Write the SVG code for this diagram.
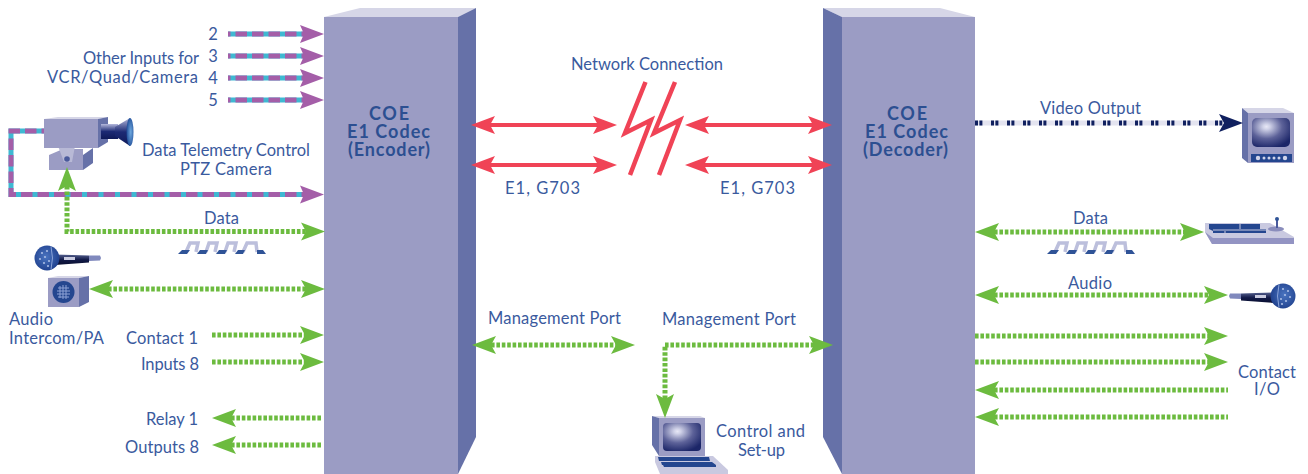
<svg xmlns="http://www.w3.org/2000/svg" xmlns:xlink="http://www.w3.org/1999/xlink" width="1308" height="474" viewBox="0 0 1308 474">
<style>
text{font-family:"Lato","Open Sans","Liberation Sans",sans-serif;font-weight:400;font-size:16.5px;fill:#3a5a9e}
.b{font-family:"Lato","Liberation Sans",sans-serif;font-weight:700;font-size:18px;fill:#2c4f91}
.m{text-anchor:middle}
path.l{fill:none}
.g{stroke:#6cbb3f;stroke-width:5;stroke-dasharray:3.6 1.8;marker-end:url(#hg)}
.g2{marker-start:url(#hgs)}
.gs{marker-start:url(#hgs);marker-end:none}
.r{stroke:#f04356;stroke-width:4;marker-start:url(#hrs);marker-end:url(#hr)}
.c{stroke:#3fb8d2;stroke-width:5}
.p{stroke:#a45ea8;stroke-width:5;stroke-dasharray:11.5 5;stroke-dashoffset:9;marker-end:url(#hp)}
.v{stroke:#e4e4f0;stroke-width:5}
.n{stroke:#10205f;stroke-width:5;stroke-dasharray:3 1.4 3 8.6;marker-end:url(#hn)}
.front{fill:#9b9cc4}.side{fill:#6671a8}.top{fill:#d6d6e7}
</style>
<defs>
<marker id="hg" markerUnits="userSpaceOnUse" markerWidth="24" markerHeight="20" refX="0" refY="0" orient="auto" overflow="visible"><path d="M-5-9L19 0L-5 9L0 0z" fill="#6cbb3f"/></marker>
<marker id="hgs" markerUnits="userSpaceOnUse" markerWidth="24" markerHeight="20" refX="0" refY="0" orient="auto-start-reverse" overflow="visible"><path d="M-5-9L19 0L-5 9L0 0z" fill="#6cbb3f"/></marker>
<marker id="hr" markerUnits="userSpaceOnUse" markerWidth="24" markerHeight="20" refX="0" refY="0" orient="auto" overflow="visible"><path d="M-5-9L19 0L-5 9L0 0z" fill="#f04356"/></marker>
<marker id="hrs" markerUnits="userSpaceOnUse" markerWidth="24" markerHeight="20" refX="0" refY="0" orient="auto-start-reverse" overflow="visible"><path d="M-5-9L19 0L-5 9L0 0z" fill="#f04356"/></marker>
<marker id="hp" markerUnits="userSpaceOnUse" markerWidth="24" markerHeight="20" refX="0" refY="0" orient="auto" overflow="visible"><path d="M-5-9L19 0L-5 9L-1 0z" fill="#a45ea8"/></marker>
<marker id="hn" markerUnits="userSpaceOnUse" markerWidth="24" markerHeight="20" refX="0" refY="0" orient="auto" overflow="visible"><path d="M-5-9L19 0L-5 9L0 0z" fill="#10205f"/></marker>
<radialGradient id="scr" cx="0.38" cy="0.3" r="0.75"><stop offset="0" stop-color="#e8e8f6"/><stop offset="0.12" stop-color="#d0d2e8"/><stop offset="0.55" stop-color="#5d6299"/><stop offset="1" stop-color="#1c2668"/></radialGradient>
<linearGradient id="cyl" x1="0" y1="0" x2="0" y2="1"><stop offset="0" stop-color="#b4b8dc"/><stop offset="0.5" stop-color="#1c2a74"/><stop offset="1" stop-color="#0f1a58"/></linearGradient>
<radialGradient id="lens" cx="0.6" cy="0.5" r="0.6"><stop offset="0" stop-color="#6fa9df"/><stop offset="1" stop-color="#1d4a96"/></radialGradient>
<linearGradient id="hand" x1="0" y1="0" x2="0" y2="1"><stop offset="0" stop-color="#55608f"/><stop offset="0.5" stop-color="#121a48"/><stop offset="1" stop-color="#0a0f30"/></linearGradient>
<radialGradient id="mh" cx="0.45" cy="0.45" r="0.6"><stop offset="0" stop-color="#4a74c0"/><stop offset="1" stop-color="#1e3f8c"/></radialGradient>
<g id="mic">
<path d="M8-3.500L42-2.500L42 4.500L8 7z" fill="url(#hand)"/>
<path d="M42-2.500L53-2.500L54 0L53 2.500L42 3z" fill="#8089bd"/>
<rect x="17" y="-1" width="11" height="3" fill="#c9cbe0"/>
<circle r="12.500" fill="url(#mh)"/>
<path d="M4-11.500Q7 0 4 11.500" fill="none" stroke="#8aa3d8" stroke-width="1"/>
<g fill="#a9bce4"><circle cx="-5" cy="-5" r="1.100"/><circle cx="0" cy="-7" r="1.100"/><circle cx="-2" cy="-1" r="1.100"/><circle cx="-7" cy="1" r="1.100"/><circle cx="-3" cy="5" r="1.100"/><circle cx="2" cy="3" r="1.100"/><circle cx="1" cy="8" r="1.100"/></g>
</g>
<g id="wave">
<path d="M186 252L190 243H198L196 252M206 252L209 243H217L215 252M225 252L228 243H236L234 252M243 252L247 243H256L257 252" fill="none" stroke="#bcbfdc" stroke-width="3.500"/>
<path d="M178 254L182 250H190L187 254zM197 254L200 250H208L206 254zM216 254L219 250H227L225 254zM235 254L238 250H245L243 254zM257 254L257 250H263L266 254z" fill="#2f5397"/>
</g>
</defs>

<g id="encoder">
<path class="top" d="M324 17L360 8H476L458 17z"/>
<path class="front" d="M324 17H458V474H324z"/>
<path class="side" d="M458 17L476 8V437L458 474z"/>
<text class="b" x="369" y="120" textLength="40">COE</text><text class="b" x="347" y="138" textLength="83">E1 Codec</text><text class="b" x="348" y="156" textLength="82">(Encoder)</text>
</g>
<g id="decoder">
<path class="top" d="M823 8H940L975 17H842z"/>
<path class="front" d="M842 17H975V474H842z"/>
<path class="side" d="M823 8L842 17V474L823 437z"/>
<text class="b" x="887" y="120" textLength="40">COE</text><text class="b" x="865" y="138" textLength="83">E1 Codec</text><text class="b" x="863" y="156" textLength="85">(Decoder)</text>
</g>

<g id="camera">
<path class="front" d="M49 155L63 149H83V170H49z"/>
<path class="side" d="M83 155L93 148V163L83 170z"/>
<path d="M58 146H75L72 162H64z" fill="#b8b9d6"/><circle cx="67" cy="159" r="2.800" fill="#4a5a9c"/>
<path class="top" d="M44 119L58 117H108L98 119z"/>
<path class="front" d="M44 119H98V148H44z"/>
<path class="side" d="M98 119L108 117V142L98 148z"/>
<rect x="101" y="124" width="17" height="15" fill="url(#cyl)"/>
<path d="M115 127L130 118V146L115 136z" fill="url(#cyl)"/>
<ellipse cx="130" cy="132" rx="3.500" ry="14" fill="url(#lens)"/>
</g>
<g id="mic-left"><use xlink:href="#mic" href="#mic" transform="translate(47 258)"/></g>
<g id="speaker">
<path class="top" d="M48 278L58 276H89L79 278z"/>
<path class="front" d="M48 278H79V307H48z"/>
<path class="side" d="M79 278L89 276V302L79 307z"/>
<circle cx="63.500" cy="292" r="11" fill="#24468f"/>
<path d="M58 288H69M57 291H70M57 294H70M58 297H69M60 286V298M63 285V299M66 285V299" stroke="#8ea2d6" stroke-width="1" fill="none"/>
</g>
<g id="wave-left"><use xlink:href="#wave" href="#wave"/></g>
<g id="wave-right"><use xlink:href="#wave" href="#wave" transform="translate(869 0)"/></g>
<g id="monitor">
<path class="top" d="M1242 108H1283L1294 113H1248z"/>
<path class="front" d="M1248 113H1294V163H1248z"/>
<path class="side" d="M1242 108L1248 113V163L1242 158z"/>
<rect x="1252" y="118" width="38" height="29" rx="5" fill="url(#scr)"/>
<rect x="1251" y="154" width="41" height="8" fill="#24468f"/>
<g fill="#d0d4ea"><circle cx="1258" cy="158" r="2.200"/><circle cx="1264" cy="158" r="1.500"/><circle cx="1269" cy="158" r="1.500"/><circle cx="1274" cy="158" r="1.500"/><circle cx="1279" cy="158" r="1.500"/><circle cx="1285" cy="158" r="2.200"/></g>
</g>
<g id="keyboard">
<path d="M1205 223H1270L1294 237V244H1212L1205 232z" fill="#c9c9e0"/>
<path d="M1205 232L1212 244H1294V238H1213z" fill="#9394c3"/>
<path d="M1209 224H1260V229H1266V233H1213V231L1209 229z" fill="#24468f"/>
<path d="M1213 230H1266M1225 231V233M1240 224V229" stroke="#c9c9e0" stroke-width="1"/>
<ellipse cx="1276" cy="229" rx="8" ry="2.500" fill="#8a8dbc"/>
<path d="M1277 219V228" stroke="#4a5a9c" stroke-width="2"/><circle cx="1277" cy="219" r="2" fill="#2f5397"/>
</g>
<g id="mic-right"><use xlink:href="#mic" href="#mic" transform="translate(1283 296) scale(-1 1)"/></g>
<g id="computer">
<path class="top" d="M652 416L700 416L705 418H659z"/>
<path class="front" d="M659 418H705V456H659z"/>
<path class="side" d="M652 416L659 418V456L652 445z"/>
<rect x="663" y="423" width="38" height="28" rx="4" fill="url(#scr)"/>
<path d="M655 456H713L728 470V474H660L655 462z" fill="#c9c9e0"/>
<path d="M658 457H709L710 461H659zM661 462H712L716 465H662zM663 465H716L716 467H664z" fill="#24468f"/>
</g>

<g id="connectors">
<g id="video-in">
<path class="l c" d="M228 34H303M228 56H303M228 78H303M228 100H303"/>
<path class="l p" d="M228 34H305"/><path class="l p" d="M228 56H305"/><path class="l p" d="M228 78H305"/><path class="l p" d="M228 100H305"/>
<path class="l c" d="M44 131H11V194.500H303"/>
<path class="l p" d="M44 131H11V194.500H305"/>
</g>
<g id="data">
<path class="l g g2" d="M67 186V231.500H306"/>
<path class="l g g2" d="M108 289H306"/>
<path class="l g" d="M212 335H305"/>
<path class="l g" d="M212 362H305"/>
<path class="l g gs" d="M231 418H322"/>
<path class="l g gs" d="M231 445H322"/>
<path class="l g g2" d="M491 345H616"/>
<path class="l g g2" d="M665 399V345H814"/>
<path class="l g g2" d="M994 232H1185"/>
<path class="l g g2" d="M994 295H1209"/>
<path class="l g" d="M975 336H1209"/>
<path class="l g" d="M975 362H1209"/>
<path class="l g gs" d="M994 390H1228"/>
<path class="l g gs" d="M994 417H1228"/>
</g>
<g id="e1">
<path class="l r" d="M490 125H598"/><path class="l r" d="M490 165H598"/>
<path class="l r" d="M704 125H813"/><path class="l r" d="M704 165H813"/>
<path d="M645.500 82L625 133L651 120L630 175" fill="none" stroke="#f04356" stroke-width="4.500"/>
<path d="M675 82L654 133L680 120L659 175" fill="none" stroke="#f04356" stroke-width="4.500"/>
</g>
<g id="video-out">
<path class="l v" d="M975 123H1222"/>
<path class="l n" d="M975 123H1224"/>
</g>
</g>

<g id="labels">
<text class="m" x="213" y="40">2</text><text class="m" x="213" y="62">3</text><text class="m" x="213" y="84">4</text><text class="m" x="213" y="106">5</text>
<text x="83" y="64" textLength="116">Other Inputs for</text>
<text x="47" y="83" textLength="151">VCR/Quad/Camera</text>
<text x="142" y="156" textLength="168">Data Telemetry Control</text>
<text x="180" y="175" textLength="92">PTZ Camera</text>
<text x="204" y="224" textLength="35">Data</text>
<text x="9" y="325" textLength="44">Audio</text>
<text x="9" y="344" textLength="95">Intercom/PA</text>
<text x="126" y="344" textLength="72">Contact 1</text>
<text x="141" y="370" textLength="58">Inputs 8</text>
<text x="146" y="425" textLength="52">Relay 1</text>
<text x="125" y="453" textLength="74">Outputs 8</text>
<text x="571" y="70" textLength="152">Network Connection</text>
<text x="505" y="194" textLength="75">E1, G703</text>
<text x="720" y="194" textLength="75">E1, G703</text>
<text x="488" y="324" textLength="133">Management Port</text>
<text x="662" y="325" textLength="134">Management Port</text>
<text x="716" y="437" textLength="89">Control and</text>
<text x="738" y="456" textLength="47">Set-up</text>
<text x="1040" y="114" textLength="101">Video Output</text>
<text x="1073" y="224" textLength="35">Data</text>
<text x="1068" y="289" textLength="44">Audio</text>
<text x="1238" y="378" textLength="58">Contact</text>
<text x="1254" y="395" textLength="26">I/O</text>
</g>
</svg>
